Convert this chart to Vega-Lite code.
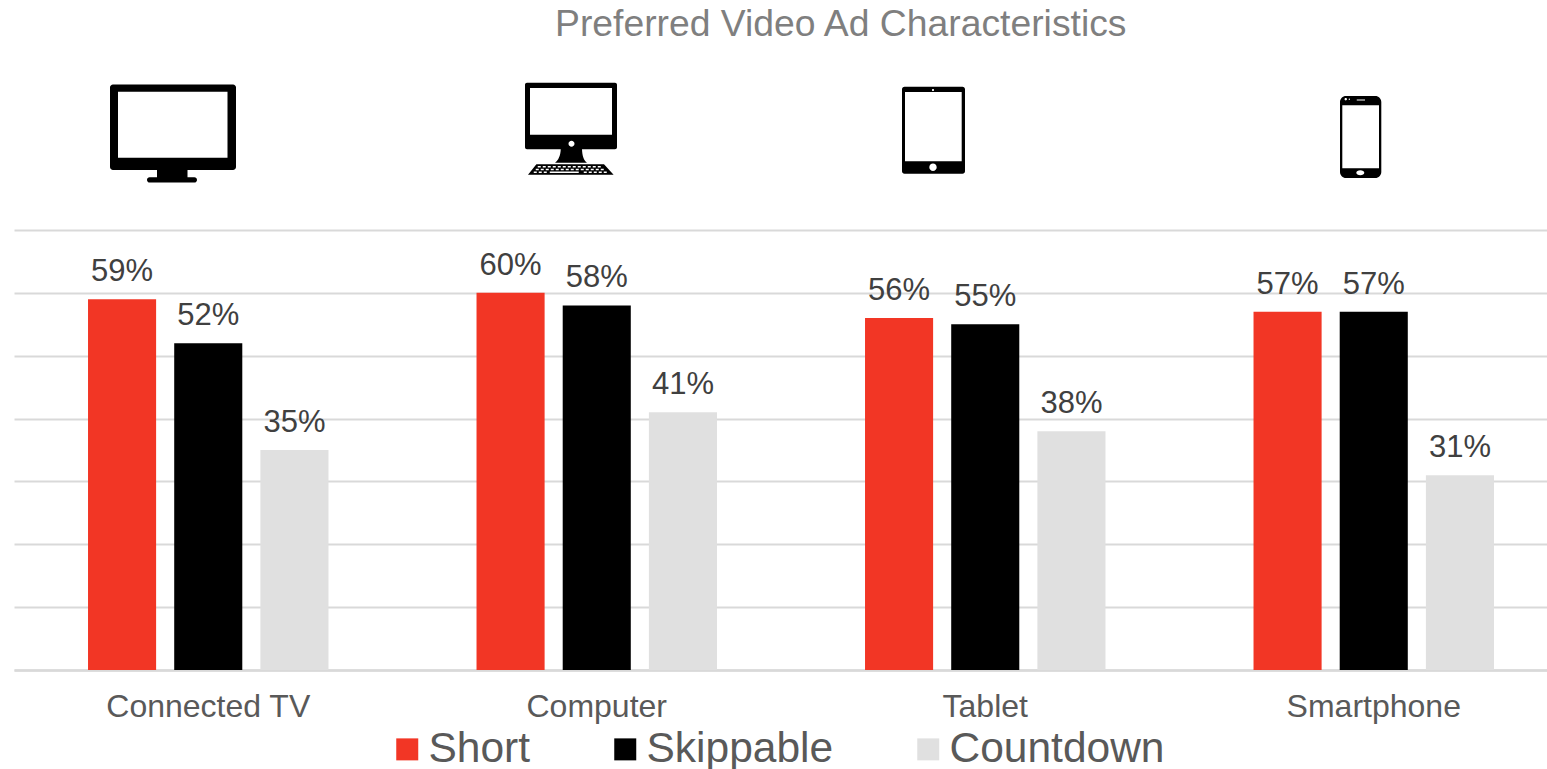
{
  "$schema": "https://vega.github.io/schema/vega-lite/v6.json",
  "width": 1533,
  "height": 440,
  "autosize": {"type": "none"},
  "padding": {"left": 14, "top": 230, "right": 0, "bottom": 99},
  "background": "white",
  "config": {
    "view": {"stroke": null},
    "font": "Liberation Sans"
  },
  "title": {
    "text": "Preferred Video Ad Characteristics",
    "anchor": "start",
    "frame": "group",
    "dx": 541,
    "offset": 38,
    "fontSize": 37.3,
    "fontWeight": "normal",
    "color": "#7F7F7F"
  },
  "datasets": {
    "shares": [
      {"device": "Connected TV", "trait": "Short", "share": 0.59},
      {"device": "Connected TV", "trait": "Skippable", "share": 0.52},
      {"device": "Connected TV", "trait": "Countdown", "share": 0.35},
      {"device": "Computer", "trait": "Short", "share": 0.60},
      {"device": "Computer", "trait": "Skippable", "share": 0.58},
      {"device": "Computer", "trait": "Countdown", "share": 0.41},
      {"device": "Tablet", "trait": "Short", "share": 0.56},
      {"device": "Tablet", "trait": "Skippable", "share": 0.55},
      {"device": "Tablet", "trait": "Countdown", "share": 0.38},
      {"device": "Smartphone", "trait": "Short", "share": 0.57},
      {"device": "Smartphone", "trait": "Skippable", "share": 0.57},
      {"device": "Smartphone", "trait": "Countdown", "share": 0.31}
    ],
    "devices": [
      {"device": "Connected TV", "level": 0.85},
      {"device": "Computer", "level": 0.85},
      {"device": "Tablet", "level": 0.85},
      {"device": "Smartphone", "level": 0.85}
    ]
  },
  "encoding": {
    "x": {
      "field": "device",
      "type": "nominal",
      "sort": ["Connected TV", "Computer", "Tablet", "Smartphone"],
      "scale": {
        "domain": ["Connected TV", "Computer", "Tablet", "Smartphone"],
        "range": [0, 1554],
        "paddingInner": 0.3345,
        "paddingOuter": 0.16725
      },
      "axis": {
        "title": null,
        "labelAngle": 0,
        "labelFontSize": 32,
        "labelLimit": 400,
        "labelColor": "#595959",
        "labelPadding": 21,
        "ticks": false,
        "domainColor": "#D9D9D9",
        "domainWidth": 2.5,
        "zindex": 0
      }
    },
    "y": {
      "field": "share",
      "type": "quantitative",
      "scale": {"domain": [0, 0.7], "nice": false},
      "axis": {
        "title": null,
        "labels": false,
        "ticks": false,
        "domain": false,
        "values": [0, 0.1, 0.2, 0.3, 0.4, 0.5, 0.6, 0.7],
        "grid": true,
        "gridColor": "#D9D9D9",
        "gridWidth": 2
      }
    }
  },
  "layer": [
    {
      "data": {"name": "shares"},
      "mark": {"type": "bar"},
      "encoding": {
        "xOffset": {
          "field": "trait",
          "type": "nominal",
          "scale": {
            "domain": ["Short", "Skippable", "Countdown"],
            "paddingInner": 0.21,
            "paddingOuter": 0.105
          }
        },
        "color": {
          "field": "trait",
          "type": "nominal",
          "scale": {
            "domain": ["Short", "Skippable", "Countdown"],
            "range": ["#F23625", "#000000", "#E0E0E0"]
          },
          "legend": {
            "title": null,
            "orient": "none",
            "legendX": 372,
            "legendY": 498,
            "direction": "horizontal",
            "columns": 3,
            "gridAlign": "each",
            "columnPadding": 73,
            "symbolType": "square",
            "symbolSize": 484,
            "symbolStrokeWidth": 0,
            "labelFontSize": 42.5,
            "labelColor": "#595959",
            "labelOffset": 0,
            "labelLimit": 400
          }
        }
      }
    },
    {
      "data": {"name": "shares"},
      "mark": {"type": "text", "baseline": "alphabetic", "dy": -18, "fontSize": 31, "color": "#404040"},
      "encoding": {
        "xOffset": {
          "field": "trait",
          "type": "nominal",
          "scale": {
            "domain": ["Short", "Skippable", "Countdown"],
            "paddingInner": 0.21,
            "paddingOuter": 0.105
          }
        },
        "text": {"field": "share", "type": "quantitative", "format": ".0%"}
      }
    },
    {
      "data": {"name": "devices"},
      "mark": {"type": "point", "filled": true, "opacity": 1, "size": 4, "color": "#000000"},
      "encoding": {
        "y": {
          "field": "level",
          "type": "quantitative",
          "scale": {"domain": [0, 0.7], "nice": false},
          "axis": {
            "title": null,
            "labels": false,
            "ticks": false,
            "domain": false,
            "values": [0, 0.1, 0.2, 0.3, 0.4, 0.5, 0.6, 0.7],
            "grid": true,
            "gridColor": "#D9D9D9",
            "gridWidth": 2
          }
        },
        "shape": {
          "field": "device",
          "type": "nominal",
          "legend": null,
          "scale": {
            "domain": ["Connected TV", "Computer", "Tablet", "Smartphone"],
            "range": [
              "M-95.25 -51.2H24.75A3 3 0 0 1 27.75 -48.2V31.3A3 3 0 0 1 24.75 34.3H-20.75V41.6H-13.85A2.6 2.6 0 0 1 -13.85 46.8H-58.65A2.6 2.6 0 0 1 -58.65 41.6H-51.25V34.3H-95.25A3 3 0 0 1 -98.25 31.3V-48.2A3 3 0 0 1 -95.25 -51.2ZM-90.25 -44V22H19.25V-44Z",
              "M-69.75 -53H18.25A2 2 0 0 1 20.25 -51V11.6A2 2 0 0 1 18.25 13.6H-14.75C-14.5 20 -13 25 -9.75 27H-41.75C-38.5 25 -36.2 20 -36 13.6H-69.75A2 2 0 0 1 -71.75 11.6V-51A2 2 0 0 1 -69.75 -53ZM-66.75 -47.7V-1H15.25V-47.7ZM-28.25 8A3 3 0 0 0 -22.25 8A3 3 0 0 0 -28.25 8ZM-60.35 28.6H7.25L16.85 39H-68.75ZM-59 30.2v1.5h3v-1.5zM-54 30.2v1.5h3v-1.5zM-49 30.2v1.5h3v-1.5zM-44 30.2v1.5h3v-1.5zM-39 30.2v1.5h3v-1.5zM-34 30.2v1.5h3v-1.5zM-29 30.2v1.5h3v-1.5zM-24 30.2v1.5h3v-1.5zM-19 30.2v1.5h3v-1.5zM-14 30.2v1.5h3v-1.5zM-9 30.2v1.5h3v-1.5zM-4 30.2v1.5h3v-1.5zM1 30.2v1.5h3v-1.5zM-61 33v1.5h3v-1.5zM-56 33v1.5h3v-1.5zM-51 33v1.5h3v-1.5zM-46 33v1.5h3v-1.5zM-41 33v1.5h3v-1.5zM-36 33v1.5h3v-1.5zM-31 33v1.5h3v-1.5zM-26 33v1.5h3v-1.5zM-21 33v1.5h3v-1.5zM-16 33v1.5h3v-1.5zM-11 33v1.5h3v-1.5zM-6 33v1.5h3v-1.5zM-1 33v1.5h3v-1.5zM4 33v1.5h3v-1.5zM-63 35.8v1.5h3v-1.5zM-58 35.8v1.5h3v-1.5zM-53 35.8v1.5h3v-1.5zM-47 35.8v1.5h29v-1.5zM-13 35.8v1.5h3v-1.5zM-8 35.8v1.5h3v-1.5zM-3 35.8v1.5h3v-1.5zM2 35.8v1.5h3v-1.5zM7 35.8v1.5h3v-1.5z",
              "M-80.75 -49H-22.75A2.5 2.5 0 0 1 -20.25 -46.5V35.5A2.5 2.5 0 0 1 -22.75 38H-80.75A2.5 2.5 0 0 1 -83.25 35.5V-46.5A2.5 2.5 0 0 1 -80.75 -49ZM-80.25 -43.7V25.6H-23.55V-43.7ZM-53.35 -45.7A1.1 1.1 0 0 0 -51.15 -45.7A1.1 1.1 0 0 0 -53.35 -45.7ZM-55.95 31.6A3.7 3.7 0 0 0 -48.55 31.6A3.7 3.7 0 0 0 -55.95 31.6Z",
              "M-27.75 -39.7H1.55A6 6 0 0 1 7.55 -33.7V36.3A6 6 0 0 1 1.55 42.3H-27.75A6 6 0 0 1 -33.75 36.3V-33.7A6 6 0 0 1 -27.75 -39.7ZM-31.45 -30.4V32.6H5.25V-30.4ZM-17.45 37A4 2.5 0 0 0 -9.45 37A4 2.5 0 0 0 -17.45 37ZM-17 -36.2V-35.2H-8.75V-36.2ZM-29.2 -36.4A1.2 1.2 0 0 0 -26.8 -36.4A1.2 1.2 0 0 0 -29.2 -36.4ZM-25.1 -36.4A0.7 0.7 0 0 0 -23.7 -36.4A0.7 0.7 0 0 0 -25.1 -36.4Z"
            ]
          }
        }
      }
    }
  ]
}
